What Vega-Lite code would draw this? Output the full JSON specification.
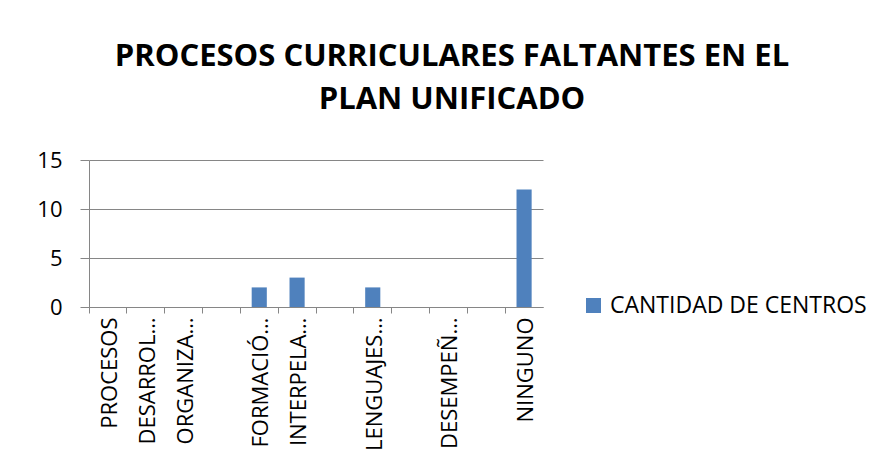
{
  "$schema": "https://vega.github.io/schema/vega-lite/v6.json",
  "autosize": "none",
  "width": 454,
  "height": 147,
  "padding": {"left": 89, "top": 160, "right": 333, "bottom": 158},
  "background": "white",
  "title": {
    "text": ["PROCESOS CURRICULARES FALTANTES EN EL", "PLAN UNIFICADO"],
    "font": "Open Sans",
    "fontSize": 31,
    "fontWeight": "bold",
    "color": "#000000",
    "anchor": "middle",
    "frame": "group",
    "dx": 136,
    "lineHeight": 43,
    "offset": 33
  },
  "data": {
    "values": [
      {"categoria": "PROCESOS", "cantidad": 0},
      {"categoria": "DESARROL…", "cantidad": 0},
      {"categoria": "ORGANIZA…", "cantidad": 0},
      {"categoria": " ", "cantidad": 0},
      {"categoria": "FORMACIÓ…", "cantidad": 2},
      {"categoria": "INTERPELA…", "cantidad": 3},
      {"categoria": "  ", "cantidad": 0},
      {"categoria": "LENGUAJES…", "cantidad": 2},
      {"categoria": "   ", "cantidad": 0},
      {"categoria": "DESEMPEÑ…", "cantidad": 0},
      {"categoria": "    ", "cantidad": 0},
      {"categoria": "NINGUNO", "cantidad": 12}
    ]
  },
  "mark": {"type": "bar", "width": {"band": 0.4}},
  "encoding": {
    "x": {
      "field": "categoria",
      "type": "nominal",
      "sort": null,
      "scale": {"paddingInner": 0, "paddingOuter": 0},
      "axis": {
        "title": null,
        "bandPosition": 0,
        "labelOffset": 2,
        "labelAngle": -90,
        "labelFont": "Open Sans",
        "labelFontSize": 22,
        "labelColor": "#000000",
        "labelPadding": 4,
        "labelLimit": 200,
        "tickSize": 6,
        "tickColor": "#868686",
        "domainColor": "#868686",
        "grid": false
      }
    },
    "y": {
      "field": "cantidad",
      "type": "quantitative",
      "scale": {"domain": [0, 15], "nice": false},
      "axis": {
        "title": null,
        "values": [0, 5, 10, 15],
        "labelFont": "Open Sans",
        "labelFontSize": 22,
        "labelColor": "#000000",
        "labelPadding": 18,
        "tickSize": 9,
        "tickColor": "#868686",
        "domainColor": "#868686",
        "gridColor": "#868686",
        "grid": true
      }
    },
    "color": {
      "datum": "CANTIDAD DE CENTROS",
      "scale": {"range": ["#4F81BD"]},
      "legend": {
        "title": null,
        "orient": "none",
        "legendX": 493,
        "legendY": 134,
        "symbolType": "square",
        "symbolSize": 225,
        "symbolStrokeWidth": 0,
        "labelFont": "Open Sans",
        "labelFontSize": 23,
        "labelColor": "#000000",
        "labelOffset": 5,
        "labelLimit": 400
      }
    }
  },
  "config": {
    "view": {"stroke": null}
  }
}
